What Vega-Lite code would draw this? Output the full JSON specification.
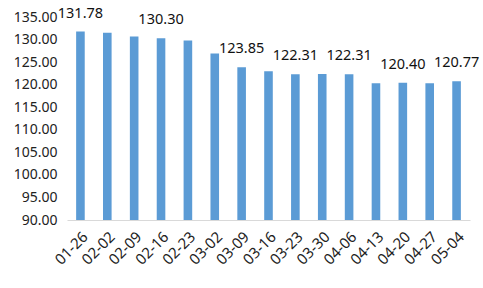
{
  "$schema": "https://vega.github.io/schema/vega-lite/v6.json",
  "autosize": {"type": "none"},
  "width": 403,
  "height": 203,
  "padding": {"left": 67, "top": 17, "right": 13, "bottom": 68},
  "background": "white",
  "config": {"view": {"stroke": null}, "font": "Noto Sans"},
  "data": {"values": [
    {"d": "01-26", "v": 131.78, "label": "131.78"},
    {"d": "02-02", "v": 131.50, "label": ""},
    {"d": "02-09", "v": 130.65, "label": ""},
    {"d": "02-16", "v": 130.30, "label": "130.30"},
    {"d": "02-23", "v": 129.80, "label": ""},
    {"d": "03-02", "v": 126.90, "label": ""},
    {"d": "03-09", "v": 123.85, "label": "123.85"},
    {"d": "03-16", "v": 123.00, "label": ""},
    {"d": "03-23", "v": 122.31, "label": "122.31"},
    {"d": "03-30", "v": 122.35, "label": ""},
    {"d": "04-06", "v": 122.31, "label": "122.31"},
    {"d": "04-13", "v": 120.30, "label": ""},
    {"d": "04-20", "v": 120.40, "label": "120.40"},
    {"d": "04-27", "v": 120.30, "label": ""},
    {"d": "05-04", "v": 120.77, "label": "120.77"}
  ]},
  "encoding": {
    "x": {"field": "d", "type": "nominal", "sort": null,
      "scale": {"paddingInner": 0.68, "paddingOuter": 0.34},
      "axis": {"title": null, "labelAngle": -45, "labelFontSize": 15, "labelColor": "#222", "ticks": false, "domainColor": "#d9d9d9", "labelPadding": 9}},
    "y": {"field": "v", "type": "quantitative",
      "scale": {"domain": [90, 135], "zero": false, "nice": false},
      "axis": {"title": null, "values": [90, 95, 100, 105, 110, 115, 120, 125, 130, 135], "format": ".2f", "grid": false, "domain": false, "ticks": false, "labelFontSize": 14, "labelColor": "#222", "labelPadding": 10}}
  },
  "layer": [
    {"mark": {"type": "bar", "color": "#5B9BD5"}, "encoding": {"y2": {"datum": 90}}},
    {"mark": {"type": "text", "fontSize": 14.5, "color": "#111", "baseline": "alphabetic", "dy": -14}, "encoding": {"text": {"field": "label"}}}
  ]
}
